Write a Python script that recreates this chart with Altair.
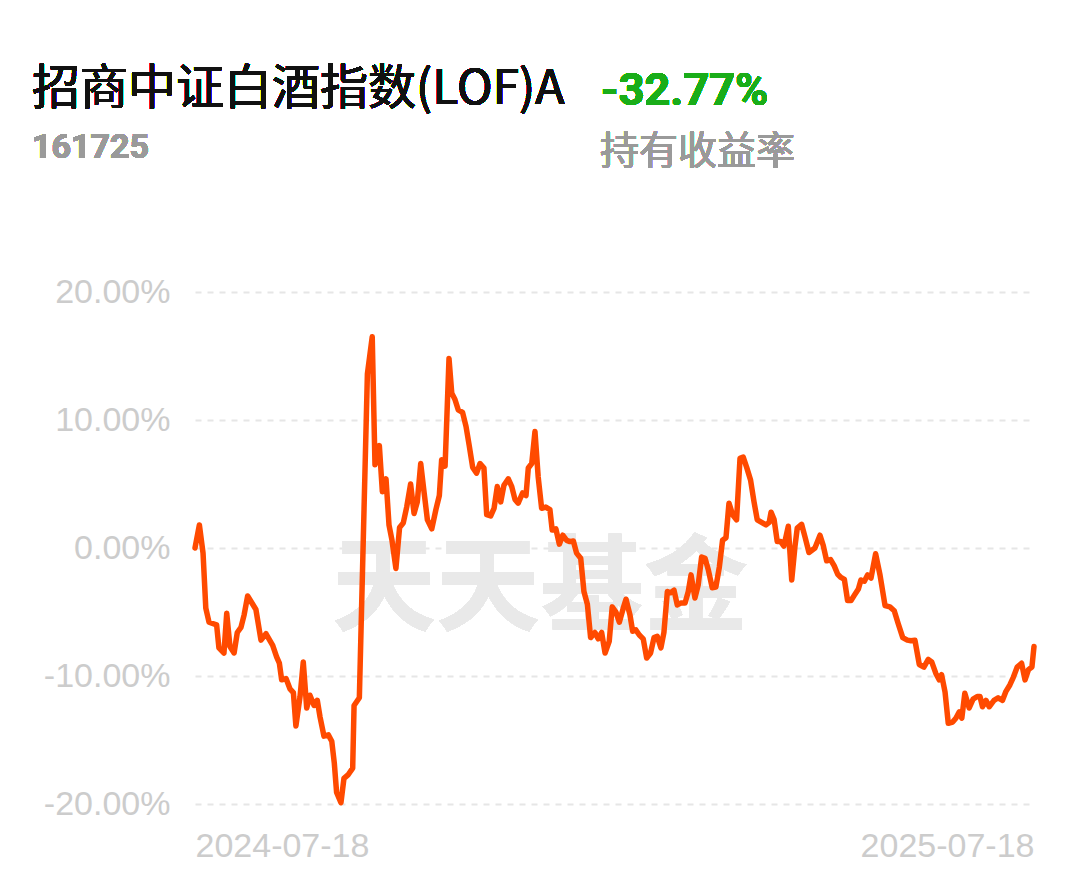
import altair as alt
import pandas as pd

# Days since 2024-07-18 and holding return (%)
days = [0, 1.9, 3.5, 4.7, 6.1, 9.4, 10.4, 12.6, 13.8, 15.2, 17.0, 18.4, 20.0, 21.4, 22.9,
        26.5, 28.7, 30.9, 33.8, 35.5, 36.7, 37.7, 39.6, 41.3, 42.8, 43.9, 45.7, 47.1, 48.6,
        50.0, 51.8, 53.2, 54.4, 56.1, 58.0, 59.5, 60.6, 61.6, 63.5, 64.8, 66.7, 68.6, 69.2,
        71.5, 75.0, 77.1, 78.3, 80.2, 81.5, 83.1, 84.4, 85.7, 87.4, 89.0, 90.6, 92.1, 93.8,
        95.3, 96.7, 98.2, 99.7, 101.1, 103.0, 104.8, 106.3, 107.3, 108.8, 110.5, 111.7,
        113.1, 114.5, 116.4, 117.9, 119.3, 120.8, 122.5, 124.0, 125.7, 126.9, 128.6, 130.1,
        131.5, 133.0, 134.4, 136.3, 137.8, 139.2, 140.6, 142.5, 144.0, 145.0, 146.5, 147.9,
        149.3, 150.8, 152.6, 154.4, 155.4, 157.0, 158.5, 160.0, 161.7, 163.1, 164.6, 166.0,
        167.8, 169.2, 170.7, 172.1, 174.0, 175.4, 176.9, 178.4, 180.2, 181.5, 183.1, 184.6,
        186.3, 187.5, 189.2, 190.4, 191.8, 193.3, 195.0, 196.5, 198.2, 199.7, 201.1, 202.7,
        204.0, 205.5, 206.9, 208.4, 209.8, 211.3, 213.2, 214.6, 215.8, 217.5, 218.9, 220.4,
        221.9, 223.3, 225.0, 226.6, 228.1, 229.5, 231.0, 232.3, 233.9, 235.6, 237.1, 238.5,
        240.0, 241.7, 243.2, 244.6, 246.5, 248.4, 249.8, 250.6, 251.9, 253.3, 254.8, 256.2,
        258.1, 259.6, 261.0, 262.0, 263.9, 265.4, 267.1, 269.7, 271.9, 273.3, 274.8, 276.5,
        278.1, 279.6, 281.0, 282.5, 283.9, 285.4, 286.8, 288.6, 289.7, 291.2, 292.6, 294.1,
        296.1, 298.0, 300.2, 302.3, 304.2, 305.9, 307.9, 309.9, 311.5, 313.2, 315.1, 317.1,
        319.0, 320.5, 322.3, 323.8, 324.8, 326.3, 327.7, 329.6, 331.0, 332.5, 333.6, 334.9,
        336.8, 338.5, 340.3, 341.5, 342.6, 344.1, 345.5, 347.6, 349.4, 351.3, 352.8, 354.5,
        356.0, 357.7, 359.6, 361.1, 362.6, 364.1, 365.0]

returns = [0.0, 1.8, -0.4, -4.7, -5.8, -6.0, -7.8, -8.2, -5.1, -7.7, -8.2, -6.6, -6.2, -5.2, -3.75,
           -4.8, -7.2, -6.7, -7.6, -8.5, -9.0, -10.3, -10.2, -11.0, -11.3, -13.9, -11.6, -8.9, -12.5,
           -11.5, -12.3, -11.9, -13.2, -14.7, -14.6, -15.1, -16.8, -19.1, -19.9, -18.0, -17.7, -17.2, -12.3,
           -11.7, 13.6, 16.5, 6.5, 8.0, 4.4, 5.4, 1.8, 0.6, -1.6, 1.6, 1.95, 3.2, 5.0,
           2.7, 3.6, 6.6, 4.3, 2.2, 1.5, 3.0, 4.1, 6.9, 6.4, 14.8, 12.1,
           11.6, 10.8, 10.6, 9.5, 8.0, 6.3, 5.85, 6.6, 6.25, 2.6, 2.5, 3.1,
           4.8, 3.6, 4.9, 5.4, 4.8, 3.8, 3.5, 4.3, 4.1, 6.25, 6.6, 9.1,
           5.55, 3.1, 3.2, 3.0, 1.4, 1.5, 0.3, 1.0, 0.6, 0.5, 0.55, -0.4,
           -0.8, -3.4, -4.4, -7.0, -6.6, -7.1, -6.6, -8.2, -7.3, -4.6, -5.0, -5.8,
           -4.7, -4.0, -5.2, -6.5, -6.4, -6.8, -7.1, -8.6, -8.2, -7.0, -6.9, -7.8,
           -6.6, -3.4, -3.5, -3.3, -4.45, -4.3, -4.3, -3.4, -2.1, -3.9, -2.9, -0.7,
           -0.8, -1.7, -3.1, -3.05, -1.5, 0.6, 0.8, 3.5, 2.6, 2.2, 7.0, 7.1,
           6.3, 5.3, 3.6, 2.2, 2.0, 1.8, 2.0, 2.8, 2.25, 0.5, 0.5, 0.15,
           1.7, -2.5, 0.1, 1.55, 1.85, 0.85, -0.35, 0.0, 1.0, 0.2, -1.0, -0.9,
           -1.4, -2.05, -2.3, -2.45, -4.1, -4.1, -3.7, -3.2, -2.5, -2.6, -2.1, -2.35,
           -0.45, -2.1, -4.5, -4.6, -4.9, -5.9, -7.0, -7.2, -7.25, -7.2, -9.1, -9.3,
           -8.7, -8.9, -9.8, -10.3, -9.9, -11.25, -13.7, -13.6, -13.3, -12.8, -13.3, -11.35,
           -12.5, -11.8, -11.6, -11.6, -12.4, -11.9, -12.4, -11.9, -11.7, -11.9, -11.2, -10.7,
           -10.1, -9.3, -9.0, -10.3, -9.5, -9.3, -7.7]

y_ticks = [-20, -10, 0, 10, 20]

fund_name = "招商中证白酒指数(LOF)A"
fund_code = "161725"
holding_return = "-32.77%"
return_label = "持有收益率"
watermark = "天天基金"

start = pd.Timestamp("2024-07-18")
df = pd.DataFrame({
    "date": [start + pd.Timedelta(days=d) for d in days],
    "ret": returns,
})

x_enc = alt.X(
    "date:T",
    scale=alt.Scale(domain=[alt.DateTime(year=2024, month=7, date=18),
                            alt.DateTime(year=2025, month=7, date=18)]),
    axis=alt.Axis(
        values=[alt.DateTime(year=2024, month=7, date=18),
                alt.DateTime(year=2025, month=7, date=18)],
        format="%Y-%m-%d", title=None, grid=False, ticks=False, domain=False,
        labelFont="Liberation Sans", labelFontSize=34, labelColor="#cccccc",
        labelPadding=25, labelFlush=True,
    ),
)
y_enc = alt.Y(
    "ret:Q",
    scale=alt.Scale(domain=[-20, 20], nice=False, zero=False),
    axis=alt.Axis(
        values=y_ticks, title=None, ticks=False, domain=False,
        labelExpr="(datum.value < 0 ? '-' : '') + format(abs(datum.value), '.2f') + '%'",
        labelFont="Liberation Sans", labelFontSize=34, labelColor="#cccccc",
        labelPadding=25, grid=True, gridColor="#e6e6e6", gridDash=[6, 6], gridWidth=2,
    ),
)

base = alt.Chart(df)

wm = base.mark_text(
    text=watermark, font="Noto Sans CJK SC", fontWeight="bold", fontSize=104,
    color="#e9e9e9", baseline="middle", align="center",
).encode(x=alt.value(345), y=alt.value(300))

line = base.mark_line(
    color="#ff4a00", strokeWidth=5.5, strokeJoin="round", strokeCap="round",
).encode(x=x_enc, y=y_enc)

def label(text, x, y, size, color, weight="normal", font="Noto Sans CJK SC"):
    return base.mark_text(
        text=text, font=font, fontSize=size, fontWeight=weight, color=color,
        align="left", baseline="alphabetic",
    ).encode(x=alt.value(x), y=alt.value(y))

t1 = label(fund_name, -163, -188, 48, "#111111")
t2 = label(holding_return, 406, -187, 45, "#1aad19", "bold", "Roboto")
t3 = label(fund_code, -163, -134, 34, "#9a9a9a", "bold", "Roboto")
t4 = label(return_label, 405, -128, 39, "#9a9a9a")

chart = alt.layer(wm, line, t1, t2, t3, t4).properties(
    width=839, height=512,
    padding={"left": 187, "top": 284, "right": 30, "bottom": 60},
    autosize="none", background="white",
).configure_view(stroke=None)

chart.save("out.html", embed_options={"renderer": "svg", "actions": False})
